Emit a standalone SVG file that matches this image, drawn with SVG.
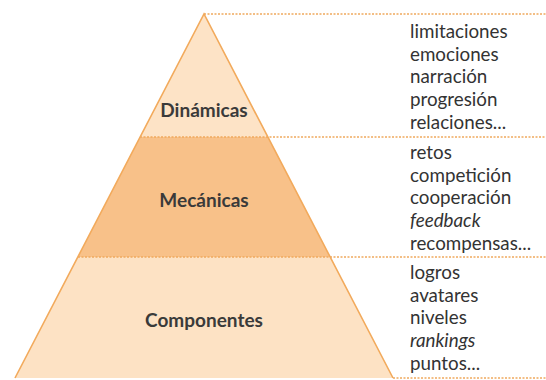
<svg xmlns="http://www.w3.org/2000/svg" width="546" height="380" viewBox="0 0 546 380">
<style>
.dot{stroke:#f0a95e;stroke-width:1.5;stroke-dasharray:2 1.5;fill:none}
.edge{stroke:#f2aa5c;stroke-width:1.6;fill:none}
.lbl{font-family:Lato,"Liberation Sans",sans-serif;font-weight:bold;font-size:19px;fill:#3a3a3a;text-anchor:middle}
.itm{font-family:Lato,"Liberation Sans",sans-serif;font-size:18.8px;fill:#333}
.it{font-style:italic}
</style>
<rect width="546" height="380" fill="#ffffff"/>
<g id="dinamicas">
<polygon points="204,14 140,137 268,137" fill="#fde3c6"/>
<text class="lbl" x="204" y="117">Dinámicas</text>
</g>
<g id="mecanicas">
<polygon points="140,137 268,137 330,257 78,257" fill="#f8c189"/>
<text class="lbl" x="204" y="207">Mecánicas</text>
</g>
<g id="componentes">
<polygon points="78,257 330,257 393,378 15,378" fill="#fde2c4"/>
<text class="lbl" x="204" y="327">Componentes</text>
</g>
<g id="connectors">
<polyline class="edge" points="15,378 204,14 393,378"/>
<line class="dot" x1="204" y1="14" x2="546" y2="14"/>
<line class="dot" x1="140" y1="137" x2="546" y2="137"/>
<line class="dot" x1="78" y1="257" x2="546" y2="257"/>
<line class="dot" x1="393" y1="378" x2="546" y2="378"/>
</g>
<g id="items">
<text class="itm" x="410" y="38">limitaciones</text>
<text class="itm" x="410" y="61">emociones</text>
<text class="itm" x="410" y="83">narración</text>
<text class="itm" x="410" y="106">progresión</text>
<text class="itm" x="410" y="129">relaciones...</text>
<text class="itm" x="410" y="159">retos</text>
<text class="itm" x="410" y="182">competición</text>
<text class="itm" x="410" y="204">cooperación</text>
<text class="itm it" x="410" y="227">feedback</text>
<text class="itm" x="410" y="250">recompensas...</text>
<text class="itm" x="410" y="279">logros</text>
<text class="itm" x="410" y="302">avatares</text>
<text class="itm" x="410" y="324">niveles</text>
<text class="itm it" x="410" y="347">rankings</text>
<text class="itm" x="410" y="370">puntos...</text>
</g>
</svg>
